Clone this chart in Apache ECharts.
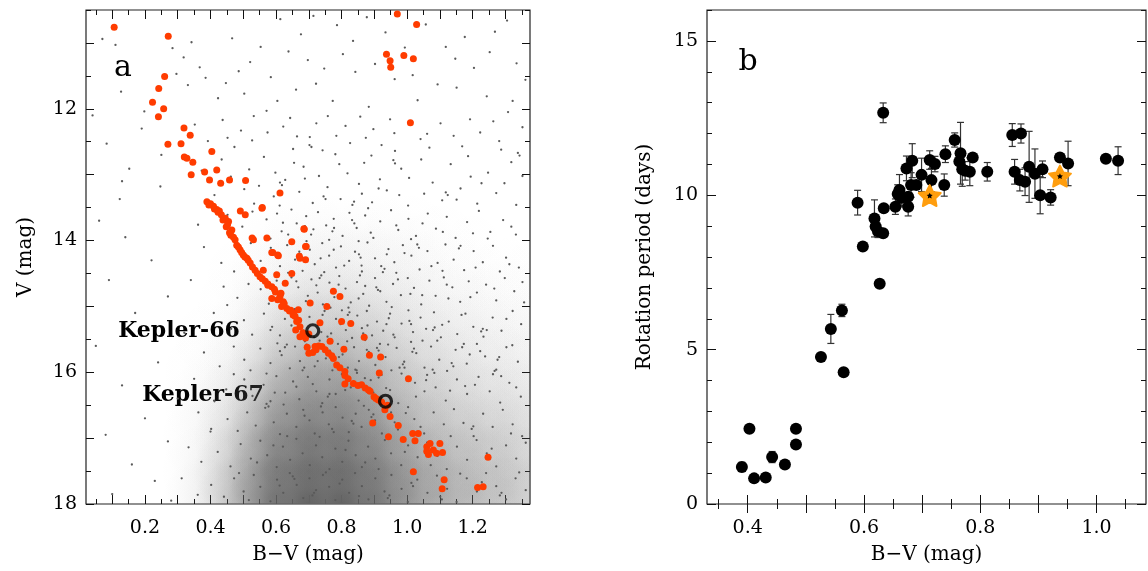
<!DOCTYPE html>
<html><head><meta charset="utf-8">
<script src="https://cdn.jsdelivr.net/npm/echarts@6/dist/echarts.min.js"></script>
<style>html,body{margin:0;padding:0;background:#fff}#c{width:1148px;height:571px}</style>
</head><body><div id="c"></div>
<script>
// ---------- Panel a: cluster CMD ----------
const members = [
[0.106,10.76],[0.271,10.90],[0.260,11.51],[0.242,11.69],[0.223,11.90],[0.257,12.00],[0.241,12.12],
[0.319,12.29],[0.338,12.40],[0.310,12.53],[0.270,12.54],[0.404,12.65],[0.320,12.73],[0.328,12.75],
[0.346,12.81],[0.382,12.96],[0.419,12.93],[0.341,13.00],[0.397,13.08],[0.431,13.13],[0.458,13.08],
[0.507,13.09],[0.612,13.28],[0.558,13.50],[0.389,13.41],[0.400,13.44],[0.409,13.48],[0.419,13.53],
[0.427,13.55],[0.433,13.61],[0.438,13.69],[0.455,13.71],[0.465,13.84],[0.491,13.55],[0.506,13.61],
[0.557,13.51],[0.448,13.79],[0.458,13.88],[0.475,13.99],[0.480,14.07],[0.490,14.14],[0.500,14.22],
[0.511,14.27],[0.521,14.34],[0.536,14.45],[0.551,14.55],[0.567,14.62],[0.587,14.70],[0.587,14.88],
[0.612,14.85],[0.622,14.93],[0.617,15.00],[0.633,15.03],[0.653,15.10],[0.663,15.23],[0.673,15.31],
[0.673,15.46],[0.531,13.99],[0.527,13.96],[0.572,13.96],[0.648,14.02],[0.686,13.83],[0.692,14.09],
[0.587,14.18],[0.607,14.23],[0.673,14.27],[0.561,14.45],[0.602,14.52],[0.648,14.50],[0.628,14.65],
[0.704,14.95],[0.755,15.00],[0.775,14.77],[0.795,14.85],[0.668,15.05],[0.734,15.25],[0.800,15.23],
[0.828,15.26],[0.765,15.53],[0.869,15.47],[0.719,15.61],[0.730,15.60],[0.740,15.61],[0.760,15.71],
[0.775,15.79],[0.785,15.89],[0.810,15.99],[0.810,16.05],[0.807,15.65],[0.885,15.74],[0.919,15.77],
[0.915,16.01],[0.810,16.18],[0.836,16.17],[0.861,16.19],[0.872,16.24],[0.887,16.29],[0.899,16.37],
[0.912,16.42],[0.932,16.57],[0.948,16.67],[0.973,16.81],[0.895,16.77],[1.004,16.10],[0.943,16.98],
[0.988,17.02],[1.017,16.93],[1.034,16.93],[1.024,17.04],[1.060,17.13],[1.070,17.08],[1.080,17.18],
[1.100,17.08],[1.065,17.25],[1.090,17.23],[1.108,17.22],[1.060,17.20],[1.019,17.51],[1.113,17.63],
[1.107,17.77],[1.247,17.29],[1.215,17.75],[1.232,17.74],[0.970,10.56],[1.029,10.72],[0.937,11.17],
[0.948,11.27],[0.950,11.37],[0.990,11.19],[1.019,11.24],[1.010,12.21],[0.690,14.29],[0.700,15.71],
[0.712,15.70],[0.685,13.82],[0.690,14.09],[0.590,14.18],[0.605,14.22],[0.671,14.24],[0.641,15.07],
[0.652,15.13],[0.669,15.21],[0.660,15.36],[0.700,15.42],[0.598,14.78],[0.615,14.80],[0.575,14.68],
[0.395,13.46],[0.412,13.52],[0.423,13.57],[0.445,13.66],[0.452,13.76],[0.462,13.92],[0.470,13.95],
[0.485,14.10],[0.495,14.18],[0.505,14.25],[0.515,14.30],[0.528,14.40],[0.543,14.50],[0.558,14.58],
[0.575,14.66],[0.595,14.74],[0.605,14.90],[0.625,14.96],[0.645,15.06],[0.658,15.15],[0.682,15.40],
[0.690,15.48],[0.695,15.62],[0.722,15.66],[0.750,15.66],[0.770,15.75],[0.795,15.93],[0.820,16.10],
[0.850,16.20],[0.882,16.27],[0.905,16.40],[0.922,16.45],[0.940,16.50]
];
const kepler = [[0.712,15.37],[0.934,16.44]];

// field-star density (fraction of area covered by grey dots)
const hazeBV = [0.4,0.5,0.6,0.7,0.8,0.9,1.0,1.1,1.2,1.3,1.4];
const hazeV  = [14.0,14.5,15.0,15.5,16.0,16.5,17.0,17.5,18.0];
const hazeCover = [
 [0.00,0.00,0.03,0.06,0.06,0.05,0.04,0.02,0.01,0.00,0.00],
 [0.00,0.02,0.07,0.12,0.12,0.10,0.08,0.05,0.03,0.02,0.02],
 [0.00,0.04,0.15,0.25,0.25,0.20,0.14,0.10,0.07,0.05,0.04],
 [0.02,0.08,0.27,0.38,0.38,0.32,0.22,0.16,0.12,0.09,0.07],
 [0.04,0.15,0.42,0.55,0.55,0.46,0.32,0.24,0.18,0.14,0.11],
 [0.07,0.26,0.58,0.68,0.68,0.58,0.42,0.32,0.26,0.22,0.16],
 [0.10,0.38,0.70,0.78,0.78,0.68,0.52,0.42,0.35,0.30,0.22],
 [0.14,0.48,0.78,0.84,0.84,0.76,0.60,0.49,0.41,0.36,0.27],
 [0.18,0.56,0.84,0.90,0.90,0.82,0.66,0.54,0.46,0.40,0.30]
];
const fieldStars = [
// V 10.5 - 12
[0.07,10.94],[0.11,11.03],[0.284,11.08],[0.318,11.22],[0.342,10.99],[0.367,11.37],[0.296,11.47],[0.331,11.64],[0.385,11.53],[0.423,11.84],
[0.466,10.93],[0.521,11.29],[0.553,11.06],[0.613,10.64],[0.638,11.13],[0.676,10.87],[0.714,10.59],[0.747,11.39],[0.786,10.73],[0.842,11.44],
[0.877,10.61],[0.934,10.84],[0.962,11.55],[1.057,10.72],[1.118,11.06],[1.176,10.91],[1.268,10.83],[1.334,11.31],[1.204,11.38],[1.093,11.63],
[0.584,11.52],[0.447,11.61],[0.127,11.74],[0.503,11.77],[0.661,11.71],[0.773,11.88],[0.883,11.97],[1.032,11.87],[1.151,11.68],[1.243,11.81],
[1.361,11.56],[0.722,11.62],[0.804,11.17],[0.902,11.32],[1.252,11.14],[0.993,11.07],[0.835,10.97],[1.305,10.66],[1.017,11.49],[0.604,11.88],
[0.697,11.26],[1.147,11.24],[0.486,11.43],[1.322,11.88],
// V 12 - 13.5
[0.198,12.04],[0.571,12.03],[1.308,12.05],[0.352,12.24],[0.437,12.17],[0.493,12.33],[0.527,12.48],[0.622,12.27],[0.703,12.43],[0.758,12.11],
[0.826,12.52],[0.897,12.31],[0.963,12.64],[1.041,12.46],[1.102,12.22],[1.168,12.57],[1.223,12.36],[1.287,12.62],[1.352,12.28],[0.083,12.53],
[0.152,12.91],[0.392,12.49],[0.434,12.77],[0.473,12.58],[0.518,12.92],[0.563,12.73],[0.598,12.97],[0.652,12.61],[0.684,12.88],[0.731,13.02],
[0.781,12.69],[0.818,12.98],[0.869,12.82],[0.917,13.07],[0.982,12.91],[1.043,12.77],[1.078,13.12],[1.133,12.84],[1.194,13.03],[1.247,12.97],
[1.318,12.81],[0.462,13.03],[0.503,13.22],[0.548,13.17],[0.593,13.33],[0.628,13.08],[0.671,13.26],[0.712,13.43],[0.757,13.19],[0.797,13.37],
[0.853,13.14],[0.893,13.42],[0.938,13.24],[1.003,13.47],[1.052,13.29],[1.107,13.39],[1.163,13.21],[1.214,13.44],[1.272,13.28],[1.333,13.46],
[0.123,13.37],[0.247,13.18],[0.373,12.94],[0.412,13.31],[0.533,13.44],[0.611,13.47],[0.688,13.06],[0.742,12.63],[0.812,12.26],[0.862,13.29],
[0.948,12.16],[1.012,12.21],[1.142,12.41],[1.297,13.13],[0.574,12.36],[0.643,12.14],[0.452,12.44],[0.784,12.41],[0.922,12.55],[1.068,12.59],
[0.857,12.12],[1.192,12.16],[0.723,12.22],[0.976,13.31],[1.151,13.38],[0.664,12.42],[1.263,12.19],[0.532,12.11],[0.891,12.71],[1.352,13.02],
[0.961,12.37],
// V 13.5 - 14.5
[0.452,13.61],[0.497,13.79],[0.528,13.56],[0.571,13.68],[0.603,13.59],[0.617,13.86],[0.647,13.53],[0.663,13.74],[0.692,13.63],[0.707,13.91],
[0.728,13.57],[0.753,13.77],[0.776,13.67],[0.803,13.93],[0.824,13.58],[0.846,13.81],[0.872,13.62],[0.897,13.96],[0.918,13.71],[0.951,13.54],
[0.973,13.84],[1.004,13.67],[1.027,13.93],[1.063,13.59],[1.088,13.82],[1.121,13.64],[1.148,13.96],[1.183,13.72],[1.219,13.55],[1.254,13.87],
[1.293,13.69],[1.332,13.91],[0.362,13.76],[0.583,13.97],[0.762,13.99],[0.881,13.51],[1.012,13.98],[1.201,13.89],[0.523,14.04],[0.553,14.31],
[0.584,14.11],[0.612,14.39],[0.634,14.07],[0.658,14.29],[0.681,14.46],[0.703,14.14],[0.718,14.36],[0.741,14.04],[0.762,14.23],[0.783,14.41],
[0.798,14.09],[0.823,14.31],[0.841,14.17],[0.862,14.47],[0.879,14.03],[0.902,14.27],[0.921,14.39],[0.943,14.13],[0.961,14.33],[0.987,14.07],
[1.013,14.23],[1.038,14.44],[1.062,14.16],[1.093,14.34],[1.117,14.06],[1.142,14.29],[1.174,14.45],[1.203,14.16],[1.231,14.33],[1.262,14.08],
[1.302,14.26],[1.341,14.41],[0.433,14.34],[0.472,14.47],[0.637,14.49],[0.747,14.48],[0.852,14.01],[0.967,14.49],[1.108,14.46],[1.283,14.47],
[0.688,13.78],[0.832,13.69],[0.938,14.21],[0.776,14.14],[0.693,14.01],[0.861,14.38],[1.047,13.74],[0.621,13.73],
// V 14.5 - 15.5
[0.553,14.74],[0.578,14.96],[0.602,14.61],[0.619,14.83],[0.647,14.56],[0.668,14.71],[0.691,14.92],[0.708,14.59],[0.727,14.79],[0.743,14.97],
[0.763,14.64],[0.778,14.86],[0.793,14.54],[0.812,14.73],[0.828,14.94],[0.847,14.63],[0.866,14.81],[0.884,14.99],[0.902,14.57],[0.918,14.77],
[0.937,14.93],[0.957,14.66],[0.981,14.83],[1.002,14.57],[1.021,14.72],[1.043,14.97],[1.068,14.61],[1.087,14.84],[1.112,14.56],[1.138,14.71],
[1.162,14.93],[1.188,14.62],[1.213,14.79],[1.241,14.67],[1.272,14.91],[1.298,14.57],[1.327,14.77],[1.357,14.94],[0.482,14.87],[0.516,14.66],
[0.451,14.98],[0.563,15.11],[0.588,15.31],[0.612,15.44],[0.627,15.19],[0.657,15.04],[0.683,15.37],[0.702,15.16],[0.716,15.47],[0.732,15.27],
[0.748,15.07],[0.768,15.41],[0.783,15.19],[0.801,15.06],[0.813,15.36],[0.832,15.48],[0.848,15.14],[0.862,15.33],[0.877,15.07],[0.893,15.44],
[0.908,15.23],[0.927,15.37],[0.948,15.11],[0.962,15.47],[0.983,15.26],[1.004,15.06],[1.018,15.39],[1.041,15.17],[1.058,15.34],[1.082,15.09],
[1.103,15.47],[1.127,15.23],[1.153,15.42],[1.178,15.11],[1.202,15.31],[1.233,15.46],[1.261,15.17],[1.288,15.37],[1.322,15.07],[1.348,15.27],
[0.502,15.21],[0.527,15.43],[0.463,15.34],[0.723,14.68],[0.872,14.69],[0.953,15.01],[1.126,14.88],[0.797,15.27],[0.647,15.29],[1.010,14.81],
[0.738,15.39],[0.856,14.53],
// V 15.5 - 16.5
[0.552,15.64],[0.583,15.86],[0.604,15.56],[0.617,15.74],[0.642,15.94],[0.658,15.61],[0.673,15.83],[0.688,15.53],[0.703,15.71],[0.718,15.91],
[0.737,15.59],[0.752,15.79],[0.772,15.97],[0.789,15.57],[0.803,15.73],[0.819,15.93],[0.838,15.62],[0.853,15.83],[0.872,15.51],[0.883,15.69],
[0.903,15.89],[0.917,15.57],[0.934,15.77],[0.952,15.97],[0.968,15.63],[0.991,15.84],[1.012,15.54],[1.028,15.71],[1.053,15.93],[1.073,15.61],
[1.098,15.81],[1.122,15.98],[1.148,15.66],[1.182,15.87],[1.213,15.57],[1.238,15.76],[1.272,15.96],[1.303,15.62],[1.338,15.84],[0.503,15.81],
[0.471,15.61],[0.522,15.97],[0.428,15.91],[0.503,16.11],[0.528,16.36],[0.562,16.19],[0.583,16.44],[0.601,16.06],[0.628,16.31],[0.652,16.14],
[0.671,16.41],[0.697,16.07],[0.723,16.29],[0.741,16.47],[0.763,16.11],[0.782,16.33],[0.801,16.03],[0.828,16.23],[0.852,16.43],[0.871,16.09],
[0.897,16.31],[0.922,16.04],[0.948,16.27],[0.973,16.47],[1.002,16.13],[1.027,16.37],[1.061,16.04],[1.087,16.23],[1.118,16.43],[1.152,16.11],
[1.183,16.33],[1.218,16.07],[1.252,16.29],[1.284,16.46],[1.312,16.16],[1.347,16.37],[0.448,16.26],[0.412,16.44],[0.471,16.03],[0.612,15.68],
[0.764,15.67],[0.921,16.38],[1.053,16.29],[1.191,15.73],[0.983,16.02],[1.287,16.06],
// V 16.5 - 18
[0.452,16.71],[0.483,16.89],[0.512,16.61],[0.538,16.81],[0.567,16.54],[0.593,16.76],[0.612,16.94],[0.633,16.63],[0.662,16.83],[0.683,16.57],
[0.702,16.73],[0.718,16.93],[0.742,16.61],[0.761,16.79],[0.782,16.53],[0.803,16.69],[0.822,16.91],[0.843,16.63],[0.861,16.83],[0.883,16.57],
[0.902,16.73],[0.923,16.93],[0.951,16.61],[0.972,16.87],[1.003,16.53],[1.022,16.71],[1.052,16.93],[1.081,16.61],[1.112,16.79],[1.143,16.56],
[1.172,16.77],[1.203,16.97],[1.232,16.63],[1.261,16.83],[1.292,16.57],[1.322,16.79],[1.351,16.97],[0.402,16.86],[0.363,16.61],
[0.422,17.21],[0.461,17.43],[0.492,17.09],[0.523,17.31],[0.552,17.04],[0.573,17.26],[0.602,17.44],[0.621,17.13],[0.643,17.33],[0.662,17.01],
[0.681,17.23],[0.703,17.41],[0.722,17.11],[0.741,17.29],[0.763,17.47],[0.781,17.16],[0.802,17.36],[0.821,17.04],[0.843,17.26],[0.862,17.44],
[0.881,17.13],[0.903,17.31],[0.932,17.03],[0.951,17.23],[0.982,17.41],[1.003,17.11],[1.032,17.29],[1.061,17.07],[1.092,17.27],[1.121,17.47],
[1.152,17.13],[1.183,17.33],[1.212,17.03],[1.243,17.23],[1.272,17.43],[1.302,17.11],[1.333,17.31],[1.362,17.07],[0.372,17.36],[0.333,17.14],
[0.402,17.71],[0.441,17.89],[0.472,17.61],[0.501,17.81],[0.532,17.56],[0.552,17.74],[0.583,17.96],[0.603,17.63],[0.622,17.83],[0.642,17.53],
[0.663,17.71],[0.683,17.91],[0.702,17.61],[0.722,17.79],[0.743,17.56],[0.762,17.74],[0.781,17.94],[0.802,17.63],[0.823,17.83],[0.841,17.53],
[0.862,17.73],[0.882,17.93],[0.903,17.61],[0.931,17.81],[0.952,17.56],[0.983,17.77],[1.002,17.97],[1.031,17.63],[1.062,17.83],[1.091,17.57],
[1.122,17.77],[1.151,17.97],[1.182,17.61],[1.213,17.81],[1.241,17.53],[1.272,17.73],[1.302,17.93],[1.331,17.61],[1.362,17.79],[0.361,17.86],
[0.312,17.61],
// sparse blue side
[0.06,13.70],[0.14,13.95],[0.22,14.30],[0.09,14.60],[0.27,14.85],[0.17,15.10],[0.32,15.40],[0.05,15.60],[0.24,15.85],[0.13,16.20],
[0.30,16.40],[0.20,16.70],[0.08,16.95],[0.27,17.05],[0.16,17.40],[0.23,17.65],[0.10,17.85],[0.28,17.95],[0.35,16.10],[0.38,15.70],
[0.34,14.60],[0.19,12.30],[0.04,12.10],[0.25,12.70],[0.13,13.10],[0.38,14.10],[0.41,15.10],[0.44,14.70],[0.40,16.90],
// clumpier field stars red-ward of the main sequence
[0.612,13.12],[0.618,13.16],[0.655,12.82],[0.702,12.55],[0.708,12.58],[0.745,13.33],[0.751,13.37],[0.793,12.84],[0.833,13.46],[0.838,13.41],
[0.874,12.44],[0.913,13.21],[0.958,12.78],[0.963,12.83],[1.006,13.05],[1.061,12.38],[1.118,13.27],[1.124,13.31],[1.186,12.72],[1.227,13.13],
[1.281,12.49],[1.338,12.67],[1.343,12.71],[0.637,13.91],[0.671,14.17],[0.676,14.21],[0.714,13.83],[0.736,14.27],[0.772,13.86],[0.777,13.81],
[0.808,14.38],[0.839,13.74],[0.853,14.21],[0.858,14.26],[0.889,13.88],[0.926,14.48],[0.931,14.43],[0.967,13.77],[0.992,14.19],[1.031,14.06],
[1.036,14.11],[1.074,14.39],[1.109,13.87],[1.158,14.12],[1.163,14.08],[1.209,14.41],[1.246,13.97],[1.312,14.36],[1.318,13.79],[0.662,14.62],
[0.697,14.84],[0.733,14.57],[0.738,14.53],[0.766,15.02],[0.791,14.67],[0.819,15.13],[0.824,15.09],[0.852,14.88],[0.879,15.29],[0.906,14.71],
[0.911,14.75],[0.944,15.18],[0.972,14.59],[1.007,15.22],[1.012,15.27],[1.046,14.83],[1.079,15.36],[1.084,15.32],[1.121,14.67],[1.166,15.13],
[1.193,14.86],[1.226,15.38],[1.231,15.34],[1.266,14.73],[1.303,15.19],[1.352,14.63],[0.693,15.58],[0.727,15.83],[0.757,15.46],[0.783,15.92],
[0.788,15.88],[0.817,15.53],[0.846,15.97],[0.877,15.66],[0.882,15.71],[0.913,16.08],[0.942,15.58],[0.977,15.93],[1.016,15.69],[1.021,15.64],
[1.058,16.12],[1.092,15.52],[1.136,15.86],[1.141,15.91],[1.177,16.21],[1.223,15.68],[1.262,16.03],[1.267,15.98],[1.321,15.59],
// extra texture in the crowded faint part
[0.571,16.48],[0.577,16.52],[0.611,17.72],[0.634,16.97],[0.651,17.58],[0.656,17.62],[0.687,16.66],[0.711,17.87],[0.716,17.83],[0.733,16.98],
[0.752,17.52],[0.771,16.86],[0.776,16.91],[0.794,17.69],[0.812,17.18],[0.831,16.74],[0.836,16.78],[0.853,17.88],[0.872,17.37],[0.891,16.68],
[0.897,16.64],[0.913,17.47],[0.941,17.91],[0.946,17.87],[0.962,16.76],[0.993,17.21],[1.013,17.68],[1.018,17.73],[1.041,16.83],[1.072,17.41],
[1.101,17.89],[1.106,17.93],[1.133,16.97],[1.162,17.54],[1.197,16.86],[1.202,16.82],[1.228,17.67],[1.258,17.16],[1.283,17.87],[1.288,17.83],
[1.317,16.93],[1.342,17.52],[0.542,17.37],[0.517,17.94],[0.487,17.53],[0.592,17.11],[0.623,16.49],[0.737,16.52],[0.868,16.51],[0.996,16.62],
[0.627,15.62],[0.633,15.58],[0.662,16.22],[0.681,15.97],[0.686,15.93],[0.712,16.18],[0.733,15.52],[0.758,16.37],[0.763,16.33],[0.792,15.77],
[0.811,16.27],[0.842,15.96],[0.847,16.01],[0.866,15.41],[0.889,16.12],[0.908,15.63],[0.913,15.67],[0.936,16.24],[0.958,15.43],[0.987,15.88],
[0.992,15.93],[1.024,16.16],[1.047,15.52],[1.078,15.96],[1.083,16.01],[1.107,15.28],[1.131,16.28],[1.168,15.62],[1.173,15.57],[1.207,16.19],
[1.243,15.36],[1.276,15.81],[1.281,15.77],[1.333,16.23],[0.583,15.36],[0.571,16.02],[0.596,16.31],[0.742,15.13],[0.821,15.02],[0.937,15.27]
];

// ---------- Panel b: rotation periods ----------
// [B-V, P_rot (days), error (days)]
const rotation = [
[0.390,1.20,0.15],[0.403,2.44,0],[0.411,0.83,0],[0.431,0.86,0],[0.442,1.52,0.18],[0.464,1.28,0],
[0.483,2.44,0],[0.483,1.93,0],[0.526,4.76,0],[0.543,5.67,0.47],[0.562,6.27,0.2],[0.565,4.27,0],
[0.589,9.76,0.4],[0.598,8.34,0],[0.618,9.25,0.6],[0.620,8.99,0],[0.624,8.83,0.2],[0.633,8.77,0],
[0.627,7.13,0],[0.633,12.67,0.32],[0.634,9.58,0],[0.654,9.63,0.25],[0.658,10.04,0.3],[0.661,10.17,0.5],
[0.661,9.98,0],[0.665,9.92,0.3],[0.676,9.63,0.3],[0.676,9.95,0],[0.673,10.87,0.4],[0.683,11.12,0.55],
[0.681,10.33,0.4],[0.690,10.33,0],[0.699,10.66,0.54],[0.713,11.14,0.3],[0.722,11.01,0.25],[0.716,10.49,0.38],
[0.740,11.33,0.27],[0.738,10.33,0.36],[0.756,11.79,0.23],[0.766,11.36,1.0],[0.764,11.09,0],[0.769,10.84,0.55],
[0.782,10.76,0.45],[0.787,11.22,0],[0.774,10.79,0.3],[0.812,10.76,0.3],[0.855,11.95,0.37],[0.870,12.00,0.31],
[0.859,10.76,0.4],[0.868,10.49,0.35],[0.877,10.44,0.45],[0.884,10.92,1.15],[0.894,10.70,0.8],[0.907,10.84,0.27],
[0.903,10.00,0.6],[0.921,9.93,0.25],[0.937,11.22,0],[0.951,11.03,0.72],[1.016,11.18,0],[1.037,11.12,0.45]
];
const keplerStars = [[0.713,9.99],[0.937,10.62]];

// ---------- axes tick values ----------
const aTickMajorX = [0.1,0.2,0.3,0.4,0.5,0.6,0.7,0.8,0.9,1.0,1.1,1.2,1.3];
const aTickMinorX = [0.05,0.15,0.25,0.35,0.45,0.55,0.65,0.75,0.85,0.95,1.05,1.15,1.25,1.35];
const aLabelX = [0.2,0.4,0.6,0.8,1.0,1.2];
const aTickMajorY = [11,12,13,14,15,16,17,18];
const aTickMinorY = [10.5,11.5,12.5,13.5,14.5,15.5,16.5,17.5];
const aLabelY = [12,14,16,18];
const bTickMajorX = [0.4,0.5,0.6,0.7,0.8,0.9,1.0];
const bTickMinorX = [0.35,0.45,0.55,0.65,0.75,0.85,0.95,1.05];
const bLabelX = [0.4,0.6,0.8,1.0];
const bTickMajorY = [0,5,10,15];
const bTickMinorY = [1,2,3,4,6,7,8,9,11,12,13,14,16];
const bLabelY = [0,5,10,15];

const FONT = 'DejaVu Serif';
const STAR = 'path://M50,0 L64.69,29.77 L97.55,34.55 L73.78,57.73 L79.39,90.45 L50,75 L20.61,90.45 L26.22,57.73 L2.45,34.55 L35.31,29.77 Z';
const LABEL = {fontFamily: FONT, fontSize: 19, color: '#000', fontWeight: 'normal'};

function axis(grid, pos, min, max, ticks, len, labels, extra) {
  const o = {
    gridIndex: grid, type: 'value', position: pos, min: min, max: max,
    axisLine: {show: false}, splitLine: {show: false},
    axisTick: {show: true, inside: true, length: len, customValues: ticks, lineStyle: {color: '#111', width: 1}},
    axisLabel: {show: false}
  };
  if (labels) {
    const isX = (pos === 'bottom');
    o.axisLabel = Object.assign({show: true, customValues: labels}, LABEL, {
      margin: isX ? 15 : 9,
      formatter: v => '{t|' + (isX ? Number(v).toFixed(1) : String(Math.round(v))) + '}',
      rich: {t: LABEL}
    });
  }
  return Object.assign(o, extra || {});
}

const hazeData = [];
hazeV.forEach((v, i) => hazeBV.forEach((b, j) => { if (hazeCover[i][j] > 0) hazeData.push([b, v, hazeCover[i][j]]); }));

const chart = echarts.init(document.getElementById('c'), null, {renderer: 'canvas'});
const NAME = {fontFamily: FONT, fontSize: 20, color: '#000'};
const xName = {name: 'B\u2212V (mag)', nameLocation: 'middle', nameGap: 41, nameTextStyle: NAME};

chart.setOption({
  animation: false,
  backgroundColor: '#fff',
  textStyle: {fontFamily: FONT, fontSize: 19, color: '#000'},
  grid: [
    {left: 86, top: 10, width: 444, height: 494, show: true, borderColor: '#222', borderWidth: 1.2, backgroundColor: 'transparent'},
    {left: 707, top: 10, width: 439, height: 494, show: true, borderColor: '#222', borderWidth: 1.2, backgroundColor: 'transparent'}
  ],
  xAxis: [
    axis(0, 'bottom', 0.02, 1.375, aTickMajorX, 9, aLabelX, xName),
    axis(0, 'bottom', 0.02, 1.375, aTickMinorX, 5),
    axis(0, 'top', 0.02, 1.375, aTickMajorX, 9),
    axis(0, 'top', 0.02, 1.375, aTickMinorX, 5),
    axis(1, 'bottom', 0.33, 1.085, bTickMajorX, 9, bLabelX, xName),
    axis(1, 'bottom', 0.33, 1.085, bTickMinorX, 5),
    axis(1, 'top', 0.33, 1.085, bTickMajorX, 9),
    axis(1, 'top', 0.33, 1.085, bTickMinorX, 5)
  ],
  yAxis: [
    axis(0, 'left', 10.5, 18, aTickMajorY, 8, aLabelY, {inverse: true, name: 'V (mag)', nameLocation: 'middle', nameGap: 50, nameTextStyle: NAME}),
    axis(0, 'left', 10.5, 18, aTickMinorY, 5, null, {inverse: true}),
    axis(0, 'right', 10.5, 18, aTickMajorY, 8, null, {inverse: true}),
    axis(0, 'right', 10.5, 18, aTickMinorY, 5, null, {inverse: true}),
    axis(1, 'left', 0, 16, bTickMajorY, 9, bLabelY, {name: 'Rotation period (days)', nameLocation: 'middle', nameGap: 52, nameTextStyle: NAME}),
    axis(1, 'left', 0, 16, bTickMinorY, 5),
    axis(1, 'right', 0, 16, bTickMajorY, 9),
    axis(1, 'right', 0, 16, bTickMinorY, 5)
  ],
  graphic: [
    {type: 'text', x: 123, y: 68, style: {text: 'a', font: '30px "DejaVu Serif"', fill: '#000', align: 'center', verticalAlign: 'middle'}},
    {type: 'text', x: 748, y: 62, style: {text: 'b', font: '30px "DejaVu Serif"', fill: '#000', align: 'center', verticalAlign: 'middle'}},
    {type: 'text', x: 179, y: 331, style: {text: 'Kepler-66', font: 'bold 22px "DejaVu Serif"', fill: '#000', align: 'center', verticalAlign: 'middle'}},
    {type: 'text', x: 203, y: 395, style: {text: 'Kepler-67', font: 'bold 22px "DejaVu Serif"', fill: '#000', align: 'center', verticalAlign: 'middle'}}
  ],
  series: [
    {
      type: 'custom', xAxisIndex: 0, yAxisIndex: 0, clip: true, silent: true, z: 1,
      data: hazeData,
      renderItem: function (params, api) {
        const c = api.coord([api.value(0), api.value(1)]);
        const d = Math.min(api.value(2), 0.97);
        const a = Math.min(1, -Math.log(1 - d) / 2.3);
        const g = (k) => 'rgba(100,100,100,' + (a * k).toFixed(4) + ')';
        return {
          type: 'circle', shape: {cx: c[0], cy: c[1], r: 50},
          style: {fill: new echarts.graphic.RadialGradient(0.5, 0.5, 0.5, [
            {offset: 0, color: g(1)}, {offset: 0.2, color: g(0.88)}, {offset: 0.4, color: g(0.61)},
            {offset: 0.6, color: g(0.32)}, {offset: 0.8, color: g(0.135)}, {offset: 1, color: g(0)}
          ])}
        };
      }
    },
    {
      type: 'scatter', xAxisIndex: 0, yAxisIndex: 0, z: 2, silent: true,
      data: fieldStars, symbolSize: 2.3, itemStyle: {color: '#5a5a5a', opacity: 1}
    },
    {
      type: 'scatter', xAxisIndex: 0, yAxisIndex: 0, z: 3, data: members,
      symbolSize: 7, itemStyle: {color: '#ff3c00', opacity: 1}
    },
    {
      type: 'scatter', xAxisIndex: 0, yAxisIndex: 0, z: 4, data: kepler,
      symbolSize: 12, itemStyle: {color: 'rgba(0,0,0,0)', borderColor: '#000', borderWidth: 3.2}
    },
    {
      type: 'custom', xAxisIndex: 4, yAxisIndex: 4, z: 2,
      data: rotation.filter(r => r[2] > 0),
      renderItem: function (params, api) {
        const x = api.value(0), y = api.value(1), e = api.value(2);
        const hi = api.coord([x, y + e]), lo = api.coord([x, y - e]);
        const w = 3.5, st = {stroke: '#333', lineWidth: 1.2};
        return {type: 'group', children: [
          {type: 'line', shape: {x1: hi[0], y1: hi[1], x2: lo[0], y2: lo[1]}, style: st},
          {type: 'line', shape: {x1: hi[0] - w, y1: hi[1], x2: hi[0] + w, y2: hi[1]}, style: st},
          {type: 'line', shape: {x1: lo[0] - w, y1: lo[1], x2: lo[0] + w, y2: lo[1]}, style: st}
        ]};
      }
    },
    {
      type: 'scatter', xAxisIndex: 4, yAxisIndex: 4, z: 3,
      data: rotation.map(r => [r[0], r[1]]),
      symbolSize: 12, itemStyle: {color: '#000', opacity: 1}
    },
    {
      type: 'scatter', xAxisIndex: 4, yAxisIndex: 4, z: 4, data: keplerStars,
      symbol: STAR, symbolSize: 22, symbolKeepAspect: true,
      itemStyle: {color: '#ff9e0f', borderColor: '#ff9e0f', borderWidth: 2, borderJoin: 'round', opacity: 1}
    },
    {
      type: 'scatter', xAxisIndex: 4, yAxisIndex: 4, z: 5, data: keplerStars,
      symbol: STAR, symbolSize: 6, symbolKeepAspect: true, itemStyle: {color: '#000', opacity: 1}
    }
  ]
});
</script></body></html>
